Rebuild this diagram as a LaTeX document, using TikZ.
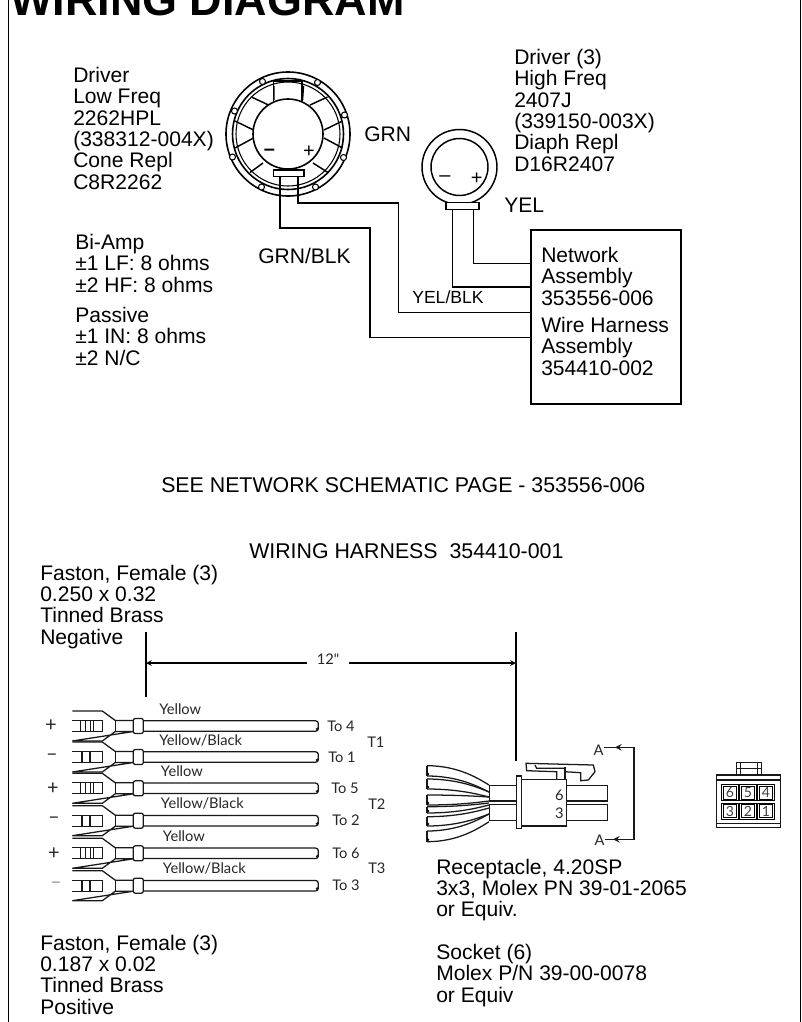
\documentclass[tikz,border=0pt]{standalone}
\usepackage{fontspec}
\setmainfont{Liberation Sans}
\newfontfamily\drawfont{Lato}
\tikzset{
  txt/.style={anchor=north west,inner sep=0pt,align=left,font=\fontsize{15.8}{16}\selectfont},
  wire/.style={line width=1.2pt},
  thin line/.style={line width=0.95pt,black!90},
  harness/.style={inner sep=0pt,font=\drawfont\fontsize{11}{11}\selectfont,text=black!85},
  cellbox/.style={draw,line width=0.7pt,minimum size=9.75pt,inner sep=0pt,font=\drawfont\fontsize{10.5}{11}\selectfont,text=black!75},
}
\begin{document}
\begin{tikzpicture}[x=0.75pt,y=0.75pt,yscale=-1]
\useasboundingbox (0,0) rectangle (802,1022);

%Straight Lines [frame]
\draw [line width=1pt] (8.5,0) -- (8.5,1022) ;
\draw [line width=1pt] (800.5,0) -- (800.5,1022) ;

% Text Node
\draw (10,15) node (title) [anchor=base west,inner sep=0pt,font=\bfseries\fontsize{33.7}{34}\selectfont] {WIRING DIAGRAM};
\draw (73,67) node (lowdrv) [txt] {Driver\\Low Freq\\2262HPL\\(338312-004X)\\Cone Repl\\C8R2262};
\draw (514,49) node (highdrv) [txt] {Driver (3)\\High Freq\\2407J\\(339150-003X)\\Diaph Repl\\D16R2407};
\draw (364,127) node (grnlab) [txt] {GRN};
\draw (504,198) node (yellab) [txt] {YEL};
\draw (258,248) node (grnblklab) [txt] {GRN/BLK};
\draw (412,290) node (yelblklab) [txt,font=\fontsize{13.2}{14}\selectfont] {YEL/BLK};
\draw (75,234) node (biamp) [txt] {Bi-Amp\\±1 LF: 8 ohms\\±2 HF: 8 ohms};
\draw (75,307) node (passive) [txt] {Passive\\±1 IN: 8 ohms\\±2 N/C};
\draw (161,477) node (seenet) [txt,font=\fontsize{16}{16}\selectfont] {SEE NETWORK SCHEMATIC PAGE - 353556-006};
\draw (249,543) node (harnlab) [txt,font=\fontsize{16}{16}\selectfont] {WIRING HARNESS\ \ 354410-001};
\draw (40,564.5) node (fastneg) [txt] {Faston, Female (3)\\0.250 x 0.32\\Tinned Brass\\Negative};
\draw (40,934.5) node (fastpos) [txt] {Faston, Female (3)\\0.187 x 0.02\\Tinned Brass\\Positive};
\draw (436,858.5) node (recept) [txt] {Receptacle, 4.20SP\\3x3, Molex PN 39-01-2065\\or Equiv.};
\draw (436,944) node (socket) [txt] {Socket (6)\\Molex P/N 39-00-0078\\or Equiv};

%Shape: Circle [low freq driver]
\draw [line width=1.2pt] (288,134) circle (62) ;
\draw [line width=1.2pt] (288,134) circle (55.5) ;
\draw [line width=0.8pt] (288,134) circle (52) ;
\draw [line width=1.2pt] (288,134) circle (35) ;
\foreach \bx/\by in {262.5/81.5,317.5/82.5,234.5/111,344.5/115,232.5/157,343.5/157.5,261.5/187,315.5/187}
  \draw [line width=0.8pt,fill=white] (\bx,\by) circle (3) ;
%Straight Lines [spokes]
\draw [line width=1.1pt] (273.5,101) -- (273.5,81) -- (302,81) -- (302,101) ;
\draw [line width=1.1pt] (302.5,100) -- (303.5,86) (310,105) -- (327.5,97)
  (274,100) -- (274,86) (268.5,105) -- (251.5,97)
  (324,130) -- (342.5,121) (324,138) -- (342.5,148)
  (253.5,130) -- (235,121) (253.5,138) -- (235,148)
  (313,163) -- (328,172.5) (263,163) -- (250,172.5) ;
\draw (269.5,152.5) node (lfminus) [inner sep=0pt,font=\fontsize{15}{15}\selectfont] {\textbf{--}};
\draw (309,152) node (lfplus) [inner sep=0pt,font=\fontsize{15}{15}\selectfont] {+};
\draw (288.7,173.3) node (lfsock) [draw,fill=white,line width=1.1pt,minimum width=23pt,minimum height=5pt,inner sep=0pt] {};

%Shape: Circle [high freq driver]
\draw [line width=1.1pt] (459.5,167) circle (37.5) ;
\draw [line width=1.1pt] (459.5,167) circle (28.5) ;
\draw (445,179) node (hfminus) [inner sep=0pt,font=\fontsize{15}{15}\selectfont] {--};
\draw (476.7,179) node (hfplus) [inner sep=0pt,font=\fontsize{15}{15}\selectfont] {+};
\draw (462.5,206) node (hfsock) [draw,fill=white,line width=1.1pt,minimum width=25pt,minimum height=5pt,inner sep=0pt] {};

%Shape: Rectangle [network]
\draw (606,317) node (netbox) [draw,line width=1pt,minimum width=112.5pt,minimum height=130.5pt,inner sep=0pt] {};
\draw (541,247) node (netlab) [txt] {Network\\Assembly\\353556-006};
\draw (541,317) node (wirelab) [txt] {Wire Harness\\Assembly\\354410-002};

%Straight Lines [wires]
\draw [wire] (lfsock.south -| 280,0) |- (370,227.7) |- (netbox.west |- 0,337.3) ;
\draw [wire] (lfsock.south -| 297.7,0) |- (398.3,202.7) |- (netbox.west |- 0,312.3) ;
\draw [wire] (hfsock.south -| 452.5,0) |- (netbox.west |- 0,286.7) ;
\draw [wire] (hfsock.south -| 473.3,0) |- (netbox.west |- 0,263.3) ;
\draw [white,line width=0.5pt] (yelblklab.west |- 0,311.8) -- (yelblklab.east |- 0,311.8) ;

%Straight Lines [dimension]
\coordinate (dimL) at (146,663);
\coordinate (dimR) at (516,663);
\draw (328,659) node (dimtxt) [harness,inner sep=7.5pt] {12"};
\draw [line width=0.9pt] (146,632) -- (146,697) ;
\draw [line width=0.9pt] (516,632) -- (516,761) ;
\draw [line width=0.9pt,-stealth] (dimtxt.west |- dimL) -- (dimL) ;
\draw [line width=0.9pt,-stealth] (dimtxt.east |- dimR) -- (dimR) ;

%Faston terminals
\foreach \n/\ty/\lx/\tx/\sx/\sg/\lab/\lw/\bars in {
  4/726/159/327/51/+/Yellow/0.5pt/{8,13,18,21},
  1/757/159/328/52/\textendash/Yellow\slash Black/1.6pt/{10,18},
  5/788.3/160.7/331/53/+/Yellow/0.5pt/{8,13,18,21},
  2/820.7/160.7/332/54/\textendash/Yellow\slash Black/1.6pt/{10,18},
  6/853.3/162.7/332/54/+/Yellow/0.5pt/{8,13,18,21},
  3/885.7/162.7/332/56/\textcolor{black!40}{\textendash}/Yellow\slash Black/1.6pt/{10,18}}{
  \begin{scope}[shift={(72.3,\ty)},thin line]
    \draw (0,-15) -- (30,-15) -- (43,-5.5) -- (61,-5.5) (61,5.5) -- (43,5.5) -- (30,15) -- (0,15) -- cycle ;
    \draw (0,-5.5) -- (30,-5.5) -- (30,5.5) -- (0,5.5) ;
    \draw (43,-5.5) -- (43,5.5) ;
    \foreach \bx in \bars
      \draw [line width=\lw] (\bx,-5.5) -- (\bx,5.5) ;
    \draw [rounded corners=1.5pt] (61,-7.5) rectangle (71,7.5) ;
    \draw [rounded corners=2pt] (71,-5.2) -- (246,-5.2) -- (246,5.2) -- (71,5.2) ;
    \fill (245,3) circle (1.6) ;
  \end{scope}
  \draw (\lx,\ty-17) node (lab\n) [harness,anchor=west] {\lab};
  \draw (\tx,\ty) node (to\n) [harness,anchor=west] {To \n};
  \draw (\sx,\ty) node (sign\n) [harness,font=\drawfont\fontsize{15}{15}\selectfont] {\sg};
}
\draw (367,742) node (tone) [harness,anchor=west] {T1};
\draw (368,804) node (ttwo) [harness,anchor=west] {T2};
\draw (368,868) node (tthree) [harness,anchor=west] {T3};

%Receptacle wires
\foreach \yt/\yb/\st/\sb in {765.7/776/785/792,779/789/792/797,795/805/797/801,806.7/813/803/805,816.7/826/808/814,831/841.7/814/821.7}{
  \draw [thin line] (427,\yt) .. controls (458,\yt) and (478,{\st+(\yt-\st)*0.35}) .. (489,\st) ;
  \draw [thin line] (427,\yb) .. controls (458,\yb) and (478,{\sb+(\yb-\sb)*0.35}) .. (489,\sb) ;
  \draw [thin line] (427,\yt) -- (427,\yb) ;
  \fill (428,\yb-2) circle (1.3) ;
}
%Shape: Rectangle [receptacle]
\draw [thin line] (489.3,785.7) rectangle (516.7,801) ;
\draw [thin line] (489.3,804.3) rectangle (516.7,820.7) ;
\draw [thin line] (566.7,785.7) rectangle (607.3,801) ;
\draw [thin line] (566.7,804.3) rectangle (607.3,820.7) ;
\draw [thin line,fill=white] (521.7,779.3) rectangle (566.7,826) ;
\draw [thin line,fill=white] (516.7,776) rectangle (521.7,828.7) ;
\draw [thin line] (556.7,779.3) -- (556.7,771.7) -- (526.7,770.7) -- (526,763.3) -- (593.3,765) -- (595,771.7) -- (588.3,780) -- (580.7,780.7) -- (580.7,772.7) -- (565,771.7) ;
\draw [thin line] (565,779.3) -- (565,766.7) ;
\draw [thin line] (535,765) -- (536.7,768.3) -- (565,768.3) ;
\draw (559.3,795) node (pinsix) [harness] {6};
\draw (559.3,813) node (pinthree) [harness] {3};

%Section line
\draw (598.5,750) node (secAtop) [harness] {A};
\draw (599.5,840) node (secAbot) [harness] {A};
\coordinate (secT) at (634,747.3);
\coordinate (secB) at (634,839.3);
\draw [thin line] (secAtop.east |- secT) -- (secT) -- (secB) -- (secAbot.east |- secB) ;
\draw [thin line,line width=1.2pt,-stealth] (630,747.3) -- (615,747.3) ;
\draw [thin line,line width=1.2pt,-stealth] (630,839.3) -- (613,839.3) ;

%Shape: Rectangle [front view]
\draw [thin line] (716.7,775) rectangle (780.7,827.3) ;
\draw [thin line] (716.7,780) -- (780.7,780) (716.7,823.3) -- (780.7,823.3) ;
\draw [thin line] (736.7,775) -- (736.7,762.7) -- (761.7,762.7) -- (761.7,775) ;
\draw [thin line] (740.7,775) -- (740.7,762.7) (757.7,775) -- (757.7,762.7) (736.7,768.5) -- (761.7,768.5) ;
\foreach \n/\cx/\cy in {6/730/792.5,5/748/792.5,4/766/792.5,3/730/811,2/748/811,1/766/811}{
  \draw [line width=0.7pt] (\cx-8.3,\cy-8) rectangle (\cx+8.3,\cy+8) ;
  \draw (\cx,\cy) node (cell\n) [cellbox] {\n};
}

\end{tikzpicture}
\end{document}
